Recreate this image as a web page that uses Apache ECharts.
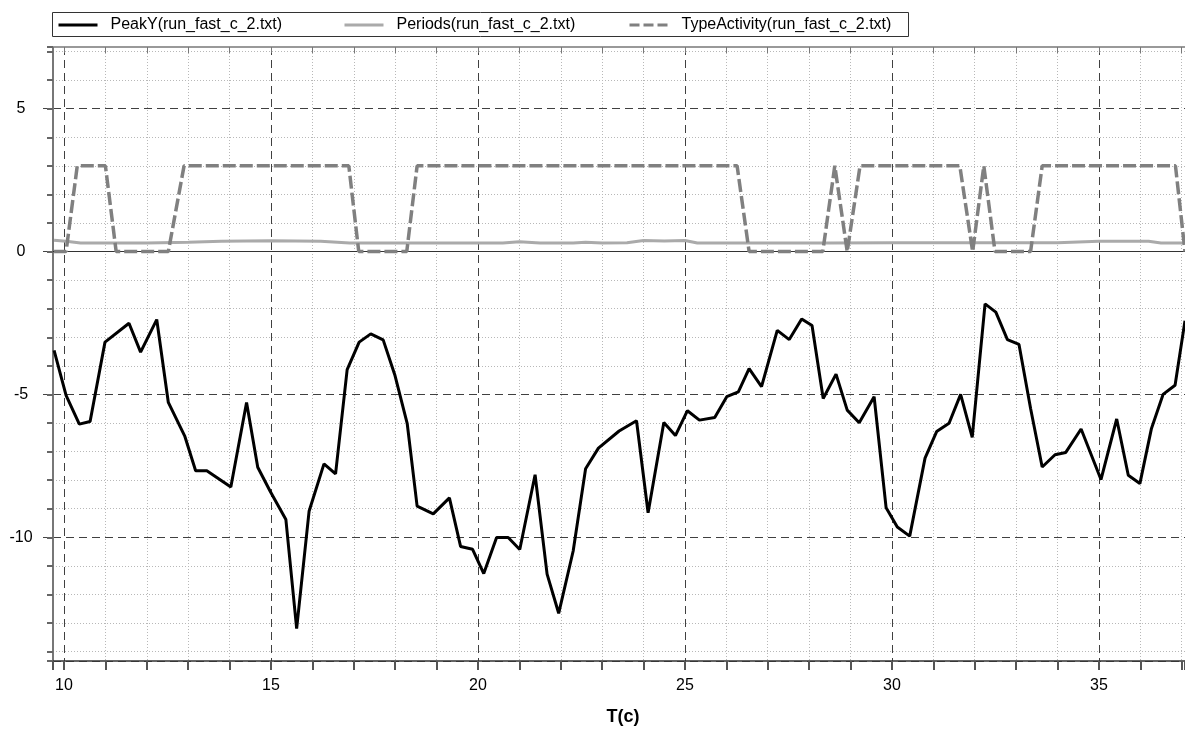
<!DOCTYPE html>
<html>
<head>
<meta charset="utf-8">
<title>PeakY / Periods / TypeActivity</title>
<script src="https://cdn.jsdelivr.net/npm/echarts@6/dist/echarts.min.js"></script>
<style>
  html, body { margin: 0; padding: 0; background: #fff; }
  #chart { width: 1185px; height: 731px; }
</style>
</head>
<body>
<div id="chart"></div>
<script>
// axis range (T in c)
const X_MIN = 9.734
const X_MAX = 37.08
const Y_MIN = -14.33
const Y_MAX = 7.16

// PeakY(run_fast_c_2.txt)
const peakX = [9.76, 10.05, 10.37, 10.63, 10.99, 11.57, 11.85, 12.24, 12.52, 12.92, 13.18, 13.45, 14.03, 14.41, 14.68, 14.98,
  15.36, 15.62, 15.92, 16.28, 16.56, 16.84, 17.13, 17.41, 17.71, 17.99, 18.29, 18.53, 18.92, 19.31, 19.58, 19.87,
  20.14, 20.45, 20.73, 21.01, 21.38, 21.67, 21.95, 22.30, 22.60, 22.91, 23.41, 23.83, 24.11, 24.49, 24.77, 25.06,
  25.35, 25.72, 26.01, 26.29, 26.55, 26.85, 27.23, 27.52, 27.82, 28.07, 28.34, 28.65, 28.92, 29.21, 29.57, 29.86,
  30.13, 30.43, 30.80, 31.08, 31.38, 31.66, 31.94, 32.25, 32.51, 32.79, 33.07, 33.35, 33.63, 33.94, 34.20, 34.57,
  35.05, 35.43, 35.71, 35.99, 36.27, 36.55, 36.84, 37.08]
const peakY = [-3.46, -5.03, -6.04, -5.95, -3.17, -2.51, -3.52, -2.38, -5.28, -6.47, -7.67, -7.67, -8.24, -5.28, -7.55, -8.39,
  -9.38, -13.2, -9.09, -7.43, -7.78, -4.13, -3.17, -2.88, -3.09, -4.31, -6.01, -8.91, -9.18, -8.62, -10.32, -10.42,
  -11.27, -10.01, -10.01, -10.43, -7.81, -11.29, -12.66, -10.48, -7.6, -6.88, -6.28, -5.92, -9.14, -5.98, -6.44, -5.57,
  -5.9, -5.81, -5.08, -4.91, -4.10, -4.73, -2.76, -3.08, -2.36, -2.59, -5.14, -4.29, -5.55, -5.99, -5.08, -8.97,
  -9.64, -9.96, -7.23, -6.3, -6.01, -5.0, -6.5, -1.83, -2.12, -3.08, -3.25, -5.49, -7.54, -7.11, -7.03, -6.21,
  -7.98, -5.86, -7.83, -8.12, -6.19, -5.0, -4.68, -2.42]

// Periods(run_fast_c_2.txt)
const periodsX = [9.76, 10.05, 10.4, 12.0, 13.0, 13.8, 15.0, 16.2, 16.9, 19.0, 20.6, 21.0, 21.5, 22.3, 22.6, 23.0,
  23.6, 24.0, 24.5, 25.0, 25.3, 27.0, 28.5, 30.0, 32.0, 34.0, 35.0, 36.2, 36.5, 37.08]
const periodsY = [0.4, 0.36, 0.3, 0.3, 0.33, 0.36, 0.38, 0.36, 0.3, 0.3, 0.3, 0.34, 0.3, 0.3, 0.33, 0.3,
  0.31, 0.39, 0.37, 0.39, 0.3, 0.3, 0.3, 0.31, 0.31, 0.31, 0.36, 0.36, 0.3, 0.3]

// TypeActivity(run_fast_c_2.txt)
const activityX = [9.76, 10.05, 10.32, 11.0, 11.26, 12.52, 12.9, 16.88, 17.12, 18.28, 18.53, 26.26, 26.55,
  28.33, 28.62, 28.92, 29.23, 31.64, 31.95, 32.22, 32.49, 33.35, 33.63, 36.85, 37.08]
const activityY = [0, 0, 3, 3, 0, 0, 3, 3, 0, 0, 3, 3, 0, 0, 3, 0, 3, 3, 0, 3, 0, 0, 3, 3, 0]

const seriesNames = ['PeakY(run_fast_c_2.txt)', 'Periods(run_fast_c_2.txt)', 'TypeActivity(run_fast_c_2.txt)']

const FONT = '"Liberation Sans", Arial, sans-serif'
const zip = (xs, ys) => xs.map((x, i) => [x, ys[i]])

const chart = echarts.init(document.getElementById('chart'))

function legendAt(left, name, lineType) {
  return {
    data: [name],
    left: left,
    top: 17,
    padding: 0,
    itemWidth: 39,
    itemHeight: 14,
    selectedMode: false,
    itemStyle: { opacity: 0, color: 'transparent', borderWidth: 0 },
    lineStyle: { width: 3, type: lineType || 'solid' },
    textStyle: { fontSize: 16, color: '#000', fontFamily: FONT, padding: [0, 0, 0, 8] }
  }
}

const gridLineDash = { color: '#404040', width: 1, type: [8, 5] }
const gridLineDot = { color: '#b8b8b8', width: 1, type: [1, 2] }
const gridLineWhite = { color: '#fff', width: 1, type: 'solid' }

// axes that only draw grid lines (no labels, no line, no ticks)
function plainX(splitNumber, lineStyle, z) {
  return {
    type: 'value', position: 'bottom', min: X_MIN, max: X_MAX, splitNumber: splitNumber, z: z,
    axisLine: { show: false, onZero: false }, axisTick: { show: false }, axisLabel: { show: false },
    splitLine: { show: true, lineStyle: lineStyle }
  }
}
function plainY(splitNumber, lineStyle, z) {
  return {
    type: 'value', position: 'left', min: Y_MIN, max: Y_MAX, splitNumber: splitNumber, z: z,
    axisLine: { show: false, onZero: false }, axisTick: { show: false }, axisLabel: { show: false },
    splitLine: { show: true, lineStyle: lineStyle }
  }
}

chart.setOption({
  backgroundColor: '#fff',
  animation: false,
  graphic: [
    {
      type: 'rect',
      silent: true,
      z: 0,
      shape: { x: 52.5, y: 12.5, width: 856, height: 24 },
      style: { fill: '#fff', stroke: '#333', lineWidth: 1 }
    }
  ],
  legend: [
    legendAt(57, seriesNames[0]),
    legendAt(343, seriesNames[1]),
    legendAt(628, seriesNames[2], [10, 4])
  ],
  grid: { left: 53, right: 0, top: 47, bottom: 67, containLabel: false },
  xAxis: [
    {
      // major grid + labels (series axis)
      type: 'value',
      position: 'bottom',
      min: X_MIN,
      max: X_MAX,
      splitNumber: 5,
      z: 2,
      axisLine: { show: false, onZero: false },
      axisTick: { show: false },
      axisLabel: { margin: 17, fontSize: 16, color: '#000', fontFamily: FONT, showMinLabel: false, showMaxLabel: false },
      splitLine: { show: true, lineStyle: gridLineDash },
      name: 'T(c)',
      nameLocation: 'middle',
      nameGap: 47,
      nameTextStyle: { fontSize: 18, fontWeight: 'bold', color: '#000', fontFamily: FONT, padding: [0, 0, 0, 8] }
    },
    plainX(27, gridLineDot, 0),
    plainX(5, gridLineWhite, 1),
    {
      // bottom axis line + ticks every 1
      type: 'value',
      position: 'bottom',
      min: X_MIN,
      max: X_MAX,
      splitNumber: 27,
      z: 3,
      axisLine: { show: true, onZero: false, lineStyle: { color: '#333', width: 1.5 } },
      axisTick: { show: true, length: 9, lineStyle: { color: '#555', width: 2 } },
      axisLabel: { show: false },
      splitLine: { show: false }
    },
    {
      // top frame
      type: 'value',
      position: 'top',
      min: X_MIN,
      max: X_MAX,
      splitNumber: 27,
      z: 3,
      axisLine: { show: true, onZero: false, lineStyle: { color: '#999', width: 2 } },
      axisTick: { show: true, inside: true, length: 6, lineStyle: { color: '#777', width: 1 } },
      axisLabel: { show: false },
      splitLine: { show: false }
    }
  ],
  yAxis: [
    {
      type: 'value',
      position: 'left',
      min: Y_MIN,
      max: Y_MAX,
      splitNumber: 4,
      z: 2,
      axisLine: { show: false, onZero: false },
      axisTick: { show: true, length: 10, lineStyle: { color: '#444', width: 1 } },
      axisLabel: { margin: 32, align: 'center', fontSize: 16, color: '#000', fontFamily: FONT, showMinLabel: false, showMaxLabel: false },
      splitLine: { show: true, lineStyle: gridLineDash }
    },
    plainY(21, gridLineDot, 0),
    plainY(4, gridLineWhite, 1),
    {
      // left axis line + ticks every 1
      type: 'value',
      position: 'left',
      min: Y_MIN,
      max: Y_MAX,
      splitNumber: 21,
      z: 3,
      axisLine: { show: true, onZero: false, lineStyle: { color: '#777', width: 2 } },
      axisTick: { show: true, length: 6, lineStyle: { color: '#666', width: 2 } },
      axisLabel: { show: false },
      splitLine: { show: false }
    }
  ],
  series: [
    {
      name: seriesNames[0],
      type: 'line',
      xAxisIndex: 0,
      yAxisIndex: 0,
      data: zip(peakX, peakY),
      symbol: 'none',
      color: '#000',
      lineStyle: { color: '#000', width: 3 },
      markLine: {
        silent: true,
        symbol: 'none',
        label: { show: false },
        lineStyle: { color: '#333', width: 1, type: 'solid' },
        data: [{ yAxis: 0 }]
      },
      z: 3
    },
    {
      name: seriesNames[1],
      type: 'line',
      xAxisIndex: 0,
      yAxisIndex: 0,
      data: zip(periodsX, periodsY),
      symbol: 'none',
      color: '#aaaaaa',
      lineStyle: { color: '#aaaaaa', width: 3 },
      z: 4
    },
    {
      name: seriesNames[2],
      type: 'line',
      xAxisIndex: 0,
      yAxisIndex: 0,
      data: zip(activityX, activityY),
      symbol: 'none',
      color: '#808080',
      lineStyle: { color: '#808080', width: 3.5, type: [13, 4] },
      z: 5
    }
  ]
})
</script>
</body>
</html>
